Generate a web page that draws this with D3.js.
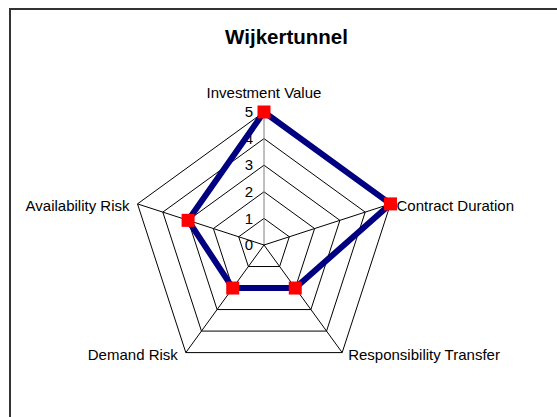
<!DOCTYPE html>
<html>
<head>
<meta charset="utf-8">
<script src="https://cdn.jsdelivr.net/npm/d3@7"></script>
<style>
  body { margin: 0; background: #fff; }
  svg { display: block; font-family: Arial, "Liberation Sans", sans-serif; }
</style>
</head>
<body>
<svg id="chart" width="557" height="417"></svg>
<script>
var categories = ["Investment Value", "Contract Duration", "Responsibility Transfer", "Demand Risk", "Availability Risk"];
var values = [5, 5, 2, 2, 3];
var ticks = [0, 1, 2, 3, 4, 5];

var width = 557, height = 417;
var cx = 264, cy = 245, radius = 133;

var svg = d3.select("#chart");

// outer frame (runs off right/bottom like the original)
svg.append("rect")
    .attr("x", 10).attr("y", 9)
    .attr("width", 560).attr("height", 420)
    .attr("fill", "#fff")
    .attr("stroke", "#333")
    .attr("stroke-width", 2);

svg.append("text")
    .attr("x", 286.5).attr("y", 44)
    .attr("text-anchor", "middle")
    .attr("font-weight", "bold")
    .attr("font-size", 20.5)
    .text("Wijkertunnel");

var r = d3.scaleLinear().domain([0, 5]).range([0, radius]);
var angle = d3.scalePoint().domain(categories).range([0, 2 * Math.PI * 4 / 5]);

function pt(cat, v) {
  var a = angle(cat);
  return [cx + r(v) * Math.sin(a), cy - r(v) * Math.cos(a)];
}

var g = svg.append("g");

// rings
ticks.slice(1).forEach(function(t) {
  g.append("polygon")
      .attr("points", categories.map(function(c) { return pt(c, t).join(","); }).join(" "))
      .attr("fill", "none")
      .attr("stroke", "#000")
      .attr("stroke-width", 1);
});

// spokes
categories.forEach(function(c, i) {
  var p = pt(c, 5);
  g.append("line")
      .attr("x1", cx).attr("y1", cy)
      .attr("x2", p[0]).attr("y2", p[1])
      .attr("stroke", i == 0 ? "#808080" : "#000")
      .attr("stroke-width", 1);
});

// tick labels along the first axis
g.selectAll(".tick").data(ticks).enter().append("text")
    .attr("class", "tick")
    .attr("x", cx - 11)
    .attr("y", function(d) { return cy - r(d); })
    .attr("dy", ".35em")
    .attr("text-anchor", "end")
    .attr("font-size", 15)
    .text(function(d) { return d; });

// category labels
categories.forEach(function(c) {
  var p = pt(c, 5), a = angle(c), s = Math.sin(a);
  var t = g.append("text").attr("font-size", 15).text(c);
  if (Math.abs(s) < 0.01) {
    t.attr("x", p[0]).attr("y", p[1] - 14).attr("text-anchor", "middle");
  } else {
    t.attr("x", p[0] + (s > 0 ? 6 : -8)).attr("y", p[1] + 2)
     .attr("dy", ".35em")
     .attr("text-anchor", s > 0 ? "start" : "end");
  }
});

// series
var pts = categories.map(function(c, i) { return pt(c, values[i]); });
g.append("path")
    .attr("d", d3.line().curve(d3.curveLinearClosed)(pts))
    .attr("fill", "none")
    .attr("stroke", "#000080")
    .attr("stroke-width", 6)
    .attr("stroke-linejoin", "miter");

var ms = 13;
g.selectAll(".marker").data(pts).enter().append("rect")
    .attr("class", "marker")
    .attr("x", function(d) { return d[0] - ms / 2; })
    .attr("y", function(d) { return d[1] - ms / 2; })
    .attr("width", ms).attr("height", ms)
    .attr("fill", "#ff0000");
</script>
</body>
</html>
